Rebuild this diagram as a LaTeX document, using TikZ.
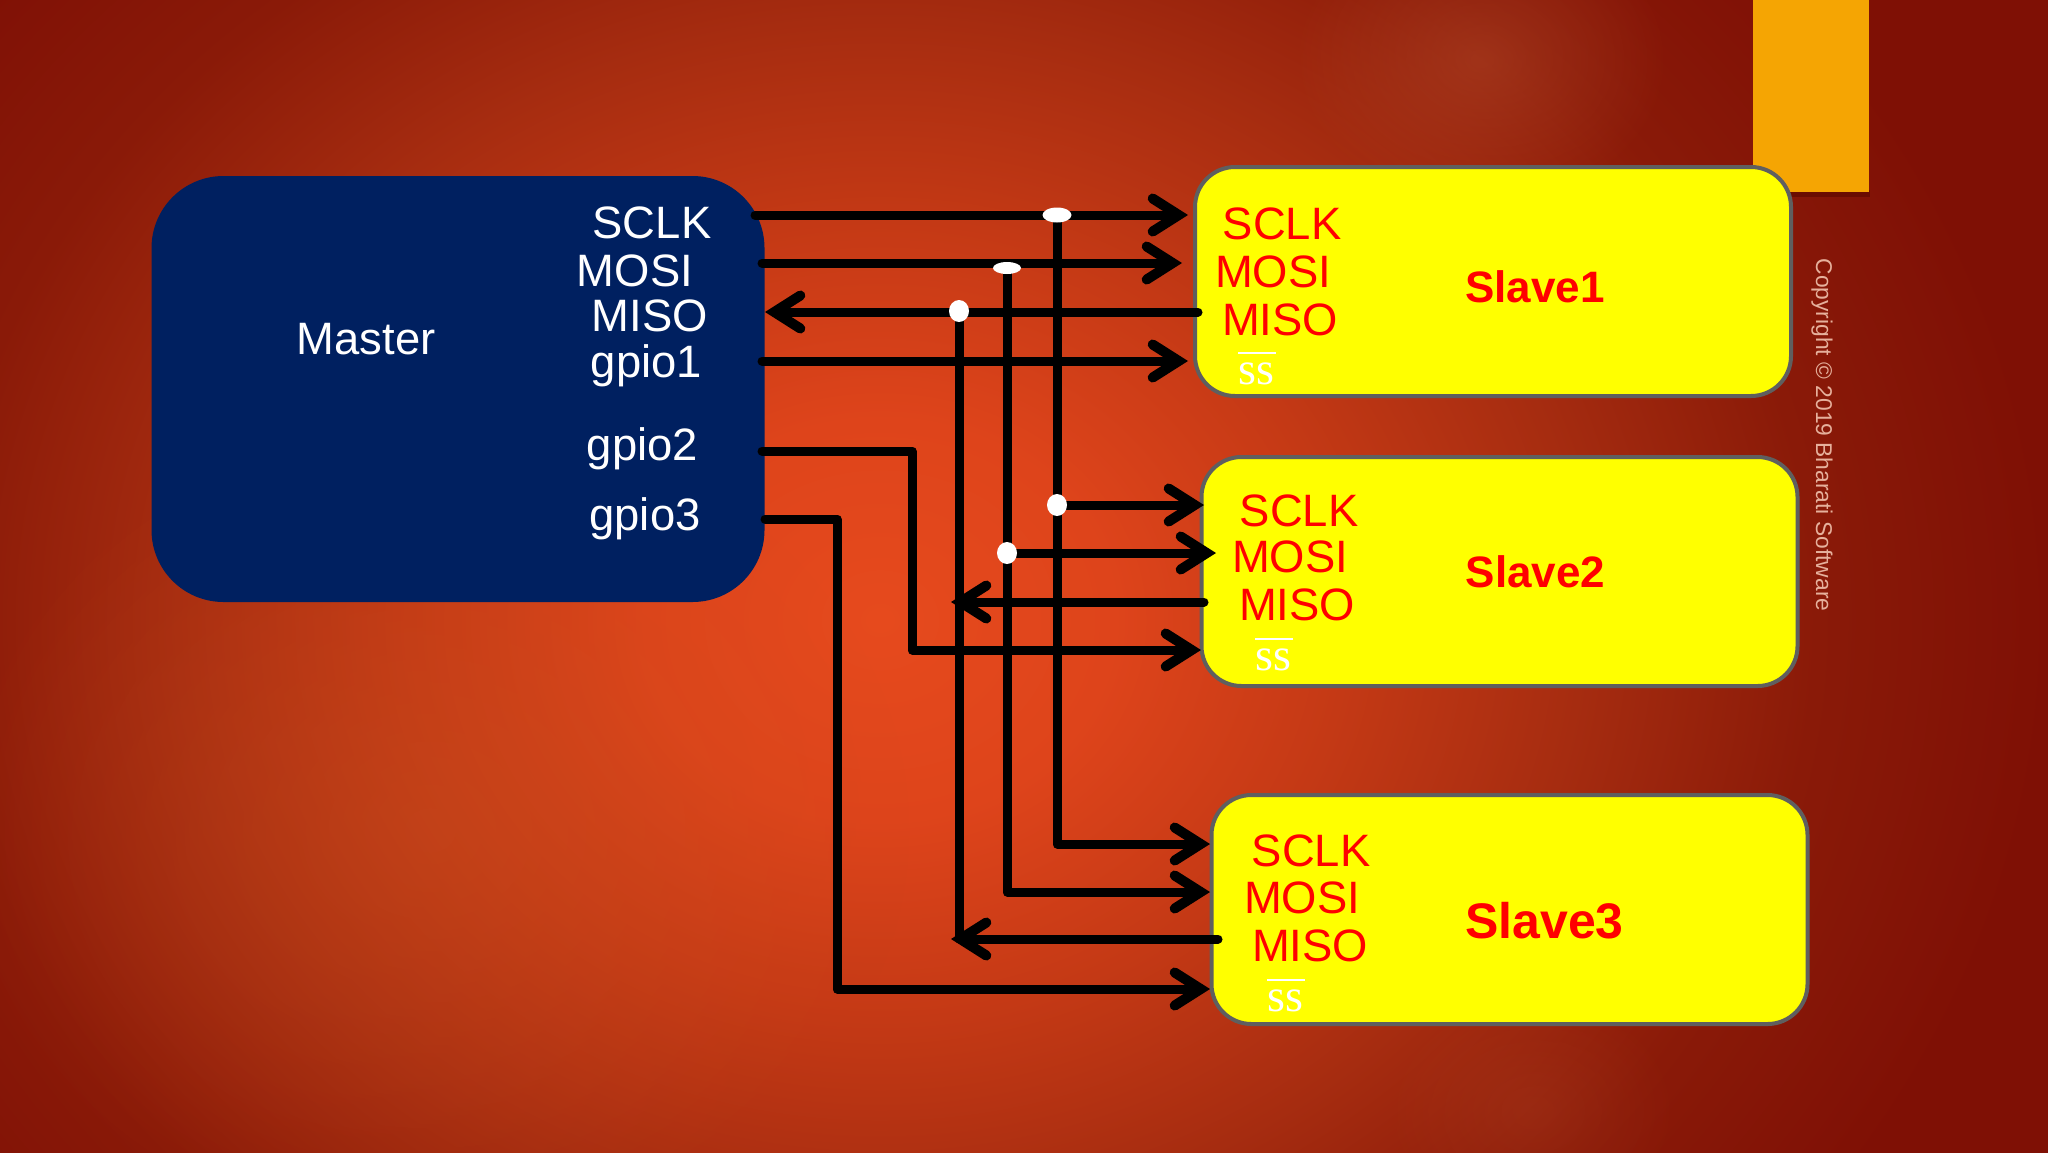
\documentclass[tikz,border=0pt]{standalone}
\usepackage{fontspec}
\setmainfont{Liberation Sans}
\newfontfamily\ssfont{Liberation Serif}
\usetikzlibrary{arrows.meta,shapes.geometric,fadings}
\definecolor{navyb}{HTML}{002060}
\definecolor{amber}{HTML}{F5A503}
\definecolor{outl}{HTML}{5F5F5F}
\definecolor{copyc}{HTML}{E6B09C}
\definecolor{pureyellow}{RGB}{255,255,0}
\definecolor{purered}{RGB}{255,0,0}
\definecolor{glowa}{HTML}{C8501E}
\definecolor{glowb}{HTML}{B8502E}
\definecolor{shadowc}{HTML}{6A0C02}
\pgfdeclareradialshading{bgglow}{\pgfpoint{0bp}{0bp}}{
 color(0bp)=(rgb,255:red,230;green,74;blue,29);
 color(5bp)=(rgb,255:red,222;green,68;blue,27);
 color(10bp)=(rgb,255:red,196;green,57;blue,21);
 color(15bp)=(rgb,255:red,166;green,44;blue,16);
 color(20bp)=(rgb,255:red,138;green,26;blue,8);
 color(25bp)=(rgb,255:red,127;green,16;blue,5);
 color(100bp)=(rgb,255:red,127;green,16;blue,5)}
\pgfdeclareradialshading{softglowshade}{\pgfpoint{0bp}{0bp}}{
 gray(0bp)=(0.42);
 gray(25bp)=(0);
 gray(50bp)=(0)}
\pgfdeclarefading{softglow}{\pgfuseshading{softglowshade}}
\newcommand{\ssmark}{\rlap{\raisebox{14.8pt}{\rule{19pt}{1.2pt}}}\ssfont ss}
\tikzset{
 bar/.style={line width=4.5pt,draw=black,line cap=round,line join=round},
 wire/.style={bar,-{Straight Barb[length=13pt,width=16.5pt,line width=5pt,line cap=round,line join=miter]}},
 masterbox/.style={rectangle,rounded corners=36,fill=navyb,minimum width=306.5pt,minimum height=213pt,inner sep=0pt},
 slavebox/.style={rectangle,rounded corners=20,fill=pureyellow,draw=outl,line width=2pt,minimum width=298pt,minimum height=114.5pt,inner sep=0pt},
 mlabel/.style={anchor=base,text=white,font=\fontsize{22.7pt}{24pt}\selectfont,inner sep=0pt},
 slabel/.style={anchor=base,text=purered,font=\fontsize{22.7pt}{24pt}\selectfont,inner sep=0pt},
 sname/.style={anchor=base,text=purered,font=\fontsize{22pt}{24pt}\selectfont\bfseries,inner sep=0pt},
 sslabel/.style={anchor=base,text=white,font=\fontsize{23pt}{24pt}\selectfont,inner sep=0pt},
 dotw/.style={ellipse,fill=white,inner sep=0pt},
}
\begin{document}
\begin{tikzpicture}[x=0.5pt,y=-0.5pt]
\useasboundingbox (0,0) rectangle (2048,1152);
% background
\begin{scope}
\clip (0,0) rectangle (2048,1152);
\shade[shading=bgglow] (-290,-380) rectangle (2050,1620);
\fill[glowa,path fading=softglow] (430,830) ellipse [x radius=480,y radius=420];
\fill[glowb,path fading=softglow] (1480,60) ellipse [x radius=190,y radius=150];
\fill[glowb,path fading=softglow,fill opacity=0.5] (1530,1110) ellipse [x radius=150,y radius=120];
\end{scope}
% accent
\fill[shadowc] (1754,190) rectangle (1870,197);
\fill[amber] (1753,0) rectangle (1869,192);
% boxes
\node[masterbox] (master) at (458,389) {};
\node[slavebox] (s1) at (1493,281.5) {};
\node[slavebox] (s2) at (1499.5,571.5) {};
\node[slavebox] (s3) at (1509.5,909.5) {};
% texts
\node[mlabel] (tmaster) at (366,354) {Master};
\node[mlabel] (tm1) at (652,238) {SCLK};
\node[mlabel] (tm2) at (635,286) {MOSI};
\node[mlabel] (tm3) at (650,331) {MISO};
\node[mlabel] (tm4) at (646.5,377) {gpio1};
\node[mlabel] (tm5) at (642.5,460) {gpio2};
\node[mlabel] (tm6) at (645,530) {gpio3};
\node[slabel] (a1) at (1282,239) {SCLK};
\node[slabel] (a2) at (1273,287) {MOSI};
\node[slabel] (a3) at (1280,335) {MISO};
\node[sslabel] (a4) at (1256,384) {\ssmark};
\node[sname] (a5) at (1535,302) {Slave1};
\node[slabel] (b1) at (1299,526) {SCLK};
\node[slabel] (b2) at (1290,572) {MOSI};
\node[slabel] (b3) at (1297,620.5) {MISO};
\node[sslabel] (b4) at (1273,670) {\ssmark};
\node[sname] (b5) at (1535.5,587) {Slave2};
\node[slabel] (c1) at (1311,866) {SCLK};
\node[slabel] (c2) at (1302,913) {MOSI};
\node[slabel] (c3) at (1310,961) {MISO};
\node[sslabel] (c4) at (1285,1011) {\ssmark};
\node[sname,font=\fontsize{25pt}{27pt}\selectfont\bfseries] (c5) at (1544.5,938) {Slave3};
\node[rotate=-90,text=copyc,font=\fontsize{11.4pt}{13pt}\selectfont,inner sep=0pt] (copy) at (1822,435) {Copyright © 2019 Bharati Software};
% ports
\coordinate (msclk) at (755,215);
\coordinate (mmosi) at (762,263);
\coordinate (mmiso) at (765,312);
\coordinate (mg1) at (762,361);
\coordinate (mg2) at (762,451);
\coordinate (mg3) at (765,519);
\coordinate (g2c) at (912,451);
\coordinate (g2d) at (912,650);
\coordinate (g3c) at (837,519);
\coordinate (g3d) at (837,989);
\coordinate (e1a) at (1188,215);
\coordinate (e1b) at (1182,263);
\coordinate (e1c) at (1198,312);
\coordinate (e1d) at (1188,361);
\coordinate (e2a) at (1204,505);
\coordinate (e2b) at (1216,553);
\coordinate (e2c) at (1204,602);
\coordinate (e2d) at (1201,650);
\coordinate (e3a) at (1210,844);
\coordinate (e3b) at (1210,892);
\coordinate (e3c) at (1218,939);
\coordinate (e3d) at (1210,989);
\coordinate (t2c) at (951,602);
\coordinate (t3c) at (951,939);
\coordinate (bus1) at (1057,844);
\coordinate (bus2) at (1007,892);
\coordinate (bus3) at (959,939);
% junction dots drawn after lines
\coordinate (j1) at (1057,215);
\coordinate (j2) at (1007,268);
\coordinate (j3) at (959,311);
\coordinate (j4) at (1057,505);
\coordinate (j5) at (1007,553);
% wires
\draw[wire] (msclk) -- (e1a);
\draw[wire] (mmosi) -- (e1b);
\draw[wire] (e1c) -- (mmiso);
\draw[wire] (mg1) -- (e1d);
\draw[wire] (mg2) -- (g2c) -- (g2d) -- (e2d);
\draw[wire] (mg3) -- (g3c) -- (g3d) -- (e3d);
\draw[wire] (j1) -- (bus1) -- (e3a);
\draw[wire] (j2) -- (bus2) -- (e3b);
\draw[bar] (j3) -- (bus3);
\draw[wire] (j4) -- (e2a);
\draw[wire] (j5) -- (e2b);
\draw[wire] (e2c) -- (t2c);
\draw[wire] (e3c) -- (t3c);
% dots
\node[dotw,minimum width=14.5pt,minimum height=7.5pt] (d1) at (j1) {};
\node[dotw,minimum width=14pt,minimum height=6pt] (d2) at (j2) {};
\node[dotw,minimum width=10pt,minimum height=11pt] (d3) at (j3) {};
\node[dotw,minimum width=10pt,minimum height=11pt] (d4) at (j4) {};
\node[dotw,minimum width=10pt,minimum height=11pt] (d5) at (j5) {};
\end{tikzpicture}
\end{document}
